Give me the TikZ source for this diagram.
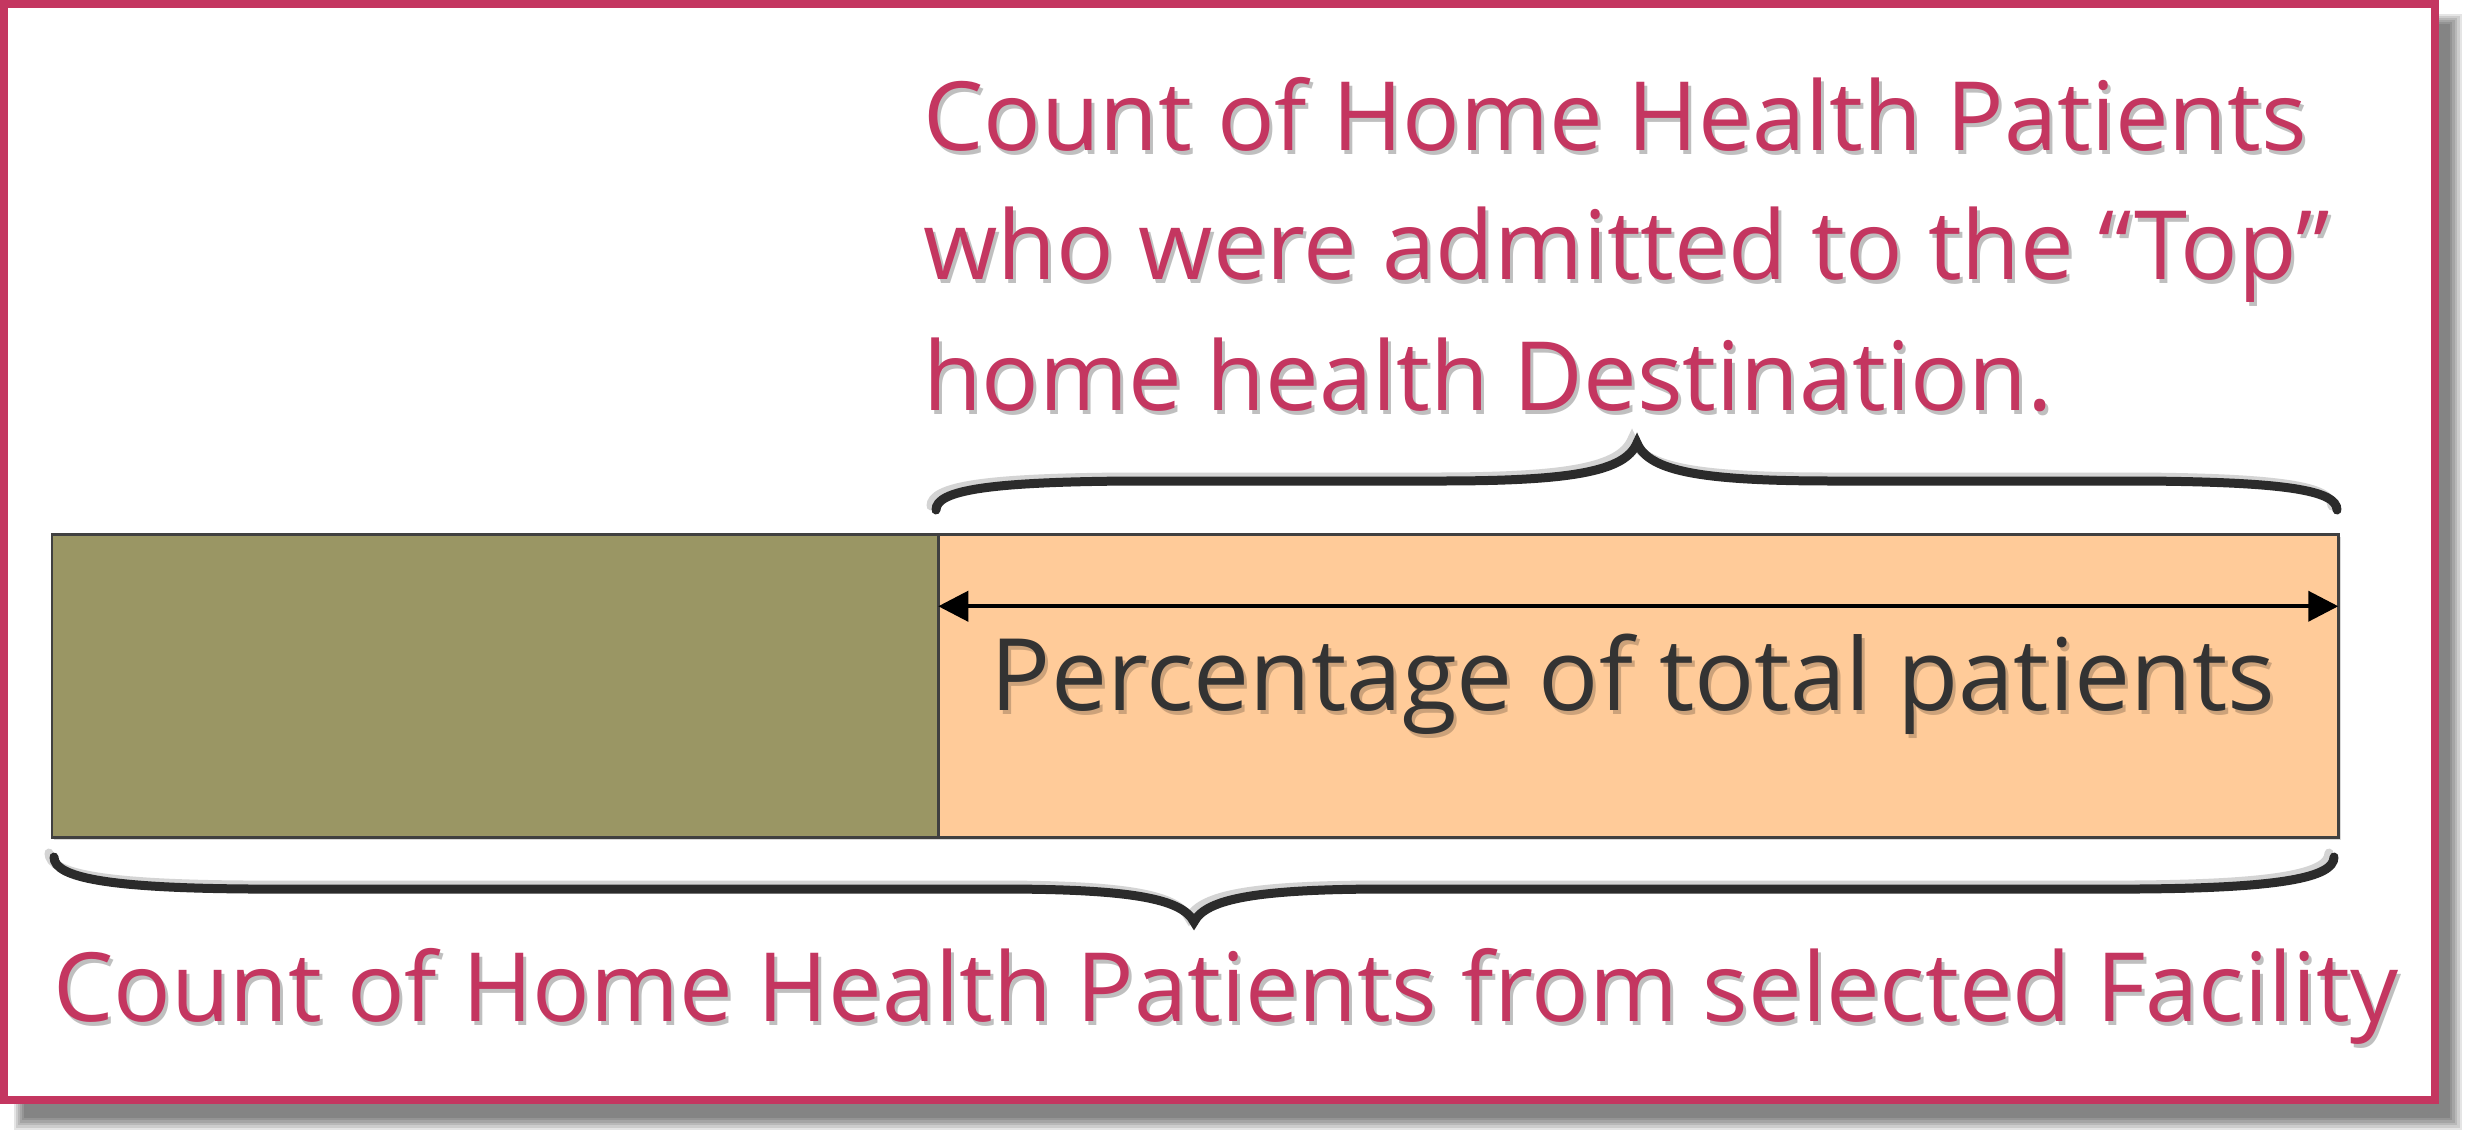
\documentclass[tikz,border=0pt]{standalone}
\usepackage{fontspec}
\setmainfont{Open Sans}
\usepackage{tikz}
\usetikzlibrary{arrows.meta,calc}
\definecolor{rosered}{HTML}{C43660}
\definecolor{olivebar}{HTML}{9A9664}
\definecolor{peachbar}{HTML}{FFCB99}
\definecolor{darktext}{HTML}{333333}
\definecolor{bracedark}{HTML}{2B2B2B}
\tikzset{
  pinklabel/.style={inner sep=0pt, anchor=base west, text=rosered,
    font=\fontsize{95.6}{130}\selectfont},
  labelshadow/.style={inner sep=0pt, anchor=base west, text=black, opacity=0.25,
    font=\fontsize{95.6}{130}\selectfont},
  barpart/.style={draw=black!75, line width=2.5pt, inner sep=0pt,
    minimum height=303pt, anchor=north west},
  bracestroke/.style={line width=9pt, line cap=round},
}

\begin{document}
\begin{tikzpicture}[x=1pt, y=-1pt]
  \useasboundingbox (0,0) rectangle (2473,1138);
  \fill[white] (0,0) rectangle (2473,1138);
  % frame with its shadow
  \foreach \k in {0,...,5}
    \fill[black, opacity=0.1] (14+2*\k,14+2*\k) rectangle (2462-2.5*\k,1130-2.5*\k);
  \fill[white] (4,4) rectangle (2435,1099.5);
  \draw[rosered, line width=8pt] (4,4) rectangle (2435,1099.5);

  % the bar
  \fill[black, opacity=0.15] (54,537) rectangle (2341,840);
  \node[barpart, fill=olivebar, minimum width=886.5pt] (facility) at (50.5,533) {};
  \node[barpart, fill=peachbar, minimum width=1400pt] (topdest) at (937,533) {};
  \draw[<->, >={Triangle[length=30pt,width=30pt]}, line width=4pt]
    ($(topdest.west)+(1.25,-79.5)$) -- ($(topdest.east)+(-1.25,-79.5)$);
  \node[inner sep=0pt, anchor=base, text=black, opacity=0.2,
    font=\fontsize{100}{120}\selectfont] (pctshadow) at (1636,714) {Percentage of total patients};
  \node[inner sep=0pt, anchor=base, text=darktext,
    font=\fontsize{100}{120}\selectfont] (pct) at (1633,710) {Percentage of total patients};

  % braces
  \foreach \dx/\dy/\c in {-5/-4/black!17, 0/0/bracedark} {
    \draw[bracestroke, \c, shift={(\dx,\dy)}]
      (936,510) .. controls (936,490) and (990,482) .. (1130,481) -- (1440,481)
      .. controls (1570,481) and (1625,472) .. (1637,443)
      .. controls (1649,472) and (1704,481) .. (1834,481) -- (2143,481)
      .. controls (2283,482) and (2337,490) .. (2337,510);
    \draw[bracestroke, \c, shift={(\dx,\dy)}]
      (54,857) .. controls (54,878) and (110,888) .. (250,889) -- (998,889)
      .. controls (1128,889) and (1182,898) .. (1194,922)
      .. controls (1206,898) and (1260,889) .. (1390,889) -- (2138,889)
      .. controls (2278,888) and (2334,878) .. (2334,857);
  }

  % labels
  \foreach \y/\line [count=\i] in {150/Count of Home Health Patients,
      279/who were admitted to the “Top”, 410/home health Destination.} {
    \node[labelshadow] (dest\i s) at (926,\y+4) {\line};
    \node[pinklabel] (dest\i) at (923,\y) {\line};
  }
  \node[labelshadow] (facs) at (56,1025) {Count of Home Health Patients from selected Facility};
  \node[pinklabel] (fac) at (53,1021) {Count of Home Health Patients from selected Facility};
\end{tikzpicture}
\end{document}
